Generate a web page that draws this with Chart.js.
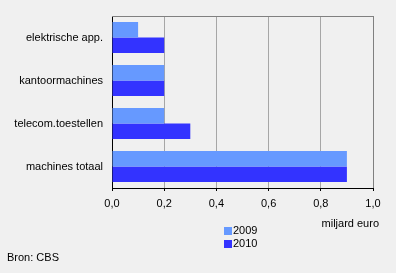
<!DOCTYPE html>
<html>
<head>
<meta charset="utf-8">
<script src="https://cdn.jsdelivr.net/npm/chart.js@4/dist/chart.umd.min.js"></script>
<style>
html,body{margin:0;padding:0;background:#f0f0f0;}
#wrap{position:relative;width:396px;height:273px;}
canvas{display:block;}
</style>
</head>
<body>
<div id="wrap"><canvas id="c" width="396" height="273"></canvas></div>
<script>
const categories = ["elektrische app.", "kantoormachines", "telecom.toestellen", "machines totaal"];
const values2009 = [0.1, 0.2, 0.2, 0.9];
const values2010 = [0.2, 0.2, 0.3, 0.9];
const seriesNames = ["2009", "2010"];
const xTickLabels = ["0,0", "0,2", "0,4", "0,6", "0,8", "1,0"];
const unitLabel = "miljard euro";
const sourceLabel = "Bron: CBS";

const FONT = "'Liberation Sans', Arial, sans-serif";

const extras = {
  id: 'extras',
  afterDraw(chart) {
    const ctx = chart.ctx;
    const a = chart.chartArea;
    ctx.save();
    // top and right frame
    ctx.strokeStyle = '#808080';
    ctx.lineWidth = 1;
    ctx.beginPath();
    ctx.moveTo(a.left, a.top + 0.5);
    ctx.lineTo(a.right + 0.5, a.top + 0.5);
    ctx.lineTo(a.right + 0.5, a.bottom);
    ctx.stroke();
    ctx.font = "11px " + FONT;
    ctx.fillStyle = '#000';
    ctx.textBaseline = 'middle';
    // unit label
    ctx.textAlign = 'right';
    ctx.fillText(unitLabel, 379, 224);
    // legend
    ctx.textAlign = 'left';
    chart.data.datasets.forEach((ds, i) => {
      const y = 231 + i * 13;
      ctx.fillStyle = ds.backgroundColor;
      ctx.fillRect(224, y - 4, 8, 8);
      ctx.fillStyle = '#000';
      ctx.fillText(ds.label, 233, y);
    });
    // source
    ctx.fillText(sourceLabel, 7, 258);
    ctx.restore();
  }
};

new Chart(document.getElementById('c'), {
  type: 'bar',
  data: {
    labels: categories,
    datasets: [
      { label: seriesNames[0], data: values2009, backgroundColor: '#6699ff', categoryPercentage: 0.72, barPercentage: 1.0 },
      { label: seriesNames[1], data: values2010, backgroundColor: '#3333ff', categoryPercentage: 0.72, barPercentage: 1.0 }
    ]
  },
  options: {
    indexAxis: 'y',
    responsive: false,
    animation: false,
    layout: { padding: { top: 16, right: 23, left: 0, bottom: 0 } },
    plugins: { legend: { display: false }, tooltip: { enabled: false } },
    scales: {
      x: {
        min: 0, max: 1,
        ticks: {
          stepSize: 0.2,
          color: '#000',
          font: { family: FONT, size: 11 },
          padding: 6,
          maxRotation: 0,
          callback: (v, i) => xTickLabels[i]
        },
        grid: {
          color: (c) => (c.tick && Math.abs(c.tick.value - 1) < 1e-9) ? '#808080' : '#a6a6a6',
          tickColor: '#000',
          tickLength: 3,
          lineWidth: 1
        },
        border: { color: '#000', width: 1 },
        afterFit: (s) => { s.height = 85; }
      },
      y: {
        ticks: {
          color: '#000',
          font: { family: FONT, size: 11 },
          padding: 9
        },
        grid: { display: false, drawTicks: false },
        border: { color: '#000', width: 1 },
        afterFit: (s) => { s.width = 112; }
      }
    }
  },
  plugins: [extras]
});
</script>
</body>
</html>
